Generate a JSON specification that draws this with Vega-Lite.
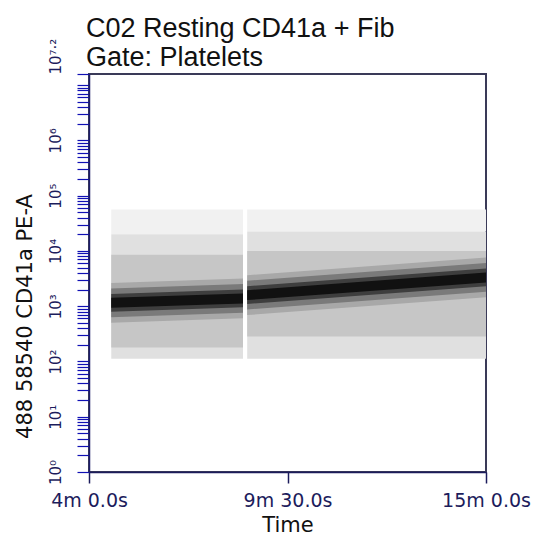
{
  "$schema": "https://vega.github.io/schema/vega-lite/v6.json",
  "autosize": "none",
  "width": 397,
  "height": 398,
  "padding": {"left": 89, "top": 74, "right": 61, "bottom": 68},
  "background": "white",
  "title": {
    "text": ["C02 Resting CD41a + Fib", "Gate: Platelets"],
    "anchor": "start",
    "frame": "group",
    "font": "Liberation Sans",
    "fontSize": 27,
    "fontWeight": "normal",
    "color": "#111111",
    "lineHeight": 29,
    "offset": 4,
    "dx": -3,
    "dy": 38
  },
  "data": {
    "values": [
      {"seg": 1, "band": "rare", "t": 277, "lo": 19953, "hi": 56234},
      {"seg": 1, "band": "rare", "t": 496, "lo": 19953, "hi": 56234},
      {"seg": 2, "band": "rare", "t": 503, "lo": 22387, "hi": 56234},
      {"seg": 2, "band": "rare", "t": 900, "lo": 22387, "hi": 56234},
      {"seg": 1, "band": "sparse", "t": 277, "lo": 112, "hi": 19953},
      {"seg": 1, "band": "sparse", "t": 496, "lo": 112, "hi": 19953},
      {"seg": 2, "band": "sparse", "t": 503, "lo": 112, "hi": 22387},
      {"seg": 2, "band": "sparse", "t": 900, "lo": 112, "hi": 22387},
      {"seg": 1, "band": "light", "t": 277, "lo": 178, "hi": 8511},
      {"seg": 1, "band": "light", "t": 496, "lo": 178, "hi": 8511},
      {"seg": 2, "band": "light", "t": 503, "lo": 282, "hi": 10000},
      {"seg": 2, "band": "light", "t": 900, "lo": 282, "hi": 10000},
      {"seg": 1, "band": "soft", "t": 277, "lo": 500, "hi": 2630},
      {"seg": 1, "band": "soft", "t": 496, "lo": 603, "hi": 3160},
      {"seg": 2, "band": "soft", "t": 503, "lo": 690, "hi": 3630},
      {"seg": 2, "band": "soft", "t": 900, "lo": 1445, "hi": 7585},
      {"seg": 1, "band": "mid", "t": 277, "lo": 631, "hi": 2089},
      {"seg": 1, "band": "mid", "t": 496, "lo": 759, "hi": 2512},
      {"seg": 2, "band": "mid", "t": 503, "lo": 871, "hi": 2884},
      {"seg": 2, "band": "mid", "t": 900, "lo": 1820, "hi": 6026},
      {"seg": 1, "band": "dark", "t": 277, "lo": 794, "hi": 1660},
      {"seg": 1, "band": "dark", "t": 496, "lo": 955, "hi": 1995},
      {"seg": 2, "band": "dark", "t": 503, "lo": 1096, "hi": 2291},
      {"seg": 2, "band": "dark", "t": 900, "lo": 2291, "hi": 4786},
      {"seg": 1, "band": "core", "t": 277, "lo": 933, "hi": 1413},
      {"seg": 1, "band": "core", "t": 496, "lo": 1122, "hi": 1698},
      {"seg": 2, "band": "core", "t": 503, "lo": 1288, "hi": 1950},
      {"seg": 2, "band": "core", "t": 900, "lo": 2692, "hi": 4074}
    ]
  },
  "mark": {"type": "area", "interpolate": "linear", "clip": true},
  "encoding": {
    "x": {
      "field": "t",
      "type": "quantitative",
      "scale": {"domain": [240, 900], "nice": false, "zero": false},
      "axis": {
        "values": [240, 570, 900],
        "labelExpr": "floor(datum.value / 60) + 'm ' + format(datum.value % 60, '.1f') + 's'",
        "title": "Time",
        "titleFont": "DejaVu Sans",
        "titleFontSize": 21,
        "titleFontWeight": "normal",
        "titleColor": "#111111",
        "titlePadding": 4,
        "labelFont": "DejaVu Sans",
        "labelFontSize": 19,
        "labelColor": "#1c1c5c",
        "labelPadding": 8,
        "labelFlush": false,
        "labelOverlap": false,
        "tickSize": 11,
        "tickColor": "#1c1c5c",
        "tickWidth": 1.5,
        "domainColor": "#1c1c5c",
        "domainWidth": 1.5,
        "grid": false
      }
    },
    "y": {
      "field": "lo",
      "type": "quantitative",
      "scale": {"type": "log", "domain": [1, 15848932], "nice": false},
      "axis": {
        "values": [1,2,3,4,5,6,7,8,9,10,20,30,40,50,60,70,80,90,100,200,300,400,500,600,700,800,900,1000,2000,3000,4000,5000,6000,7000,8000,9000,10000,20000,30000,40000,50000,60000,70000,80000,90000,100000,200000,300000,400000,500000,600000,700000,800000,900000,1000000,2000000,3000000,4000000,5000000,6000000,7000000,8000000,9000000,10000000,15848932],
        "labelExpr": "abs(log(datum.value) / LN10 - 7.2) < 0.01 ? '10⁷·²' : ((abs(log(datum.value) / LN10 - round(log(datum.value) / LN10)) < 0.001 && round(log(datum.value) / LN10) < 7) ? '10' + ['⁰','¹','²','³','⁴','⁵','⁶'][round(log(datum.value) / LN10)] : '')",
        "labelAngle": -90,
        "labelAlign": {"condition": {"test": "datum.value > 12000000", "value": "left"}, "value": "center"},
        "labelBaseline": "bottom",
        "labelPadding": 14,
        "labelFont": "DejaVu Sans",
        "labelFontSize": 15,
        "labelColor": "#1c1c5c",
        "labelOverlap": false,
        "labelBound": false,
        "labelFlush": false,
        "tickSize": 12,
        "tickColor": "#1010b4",
        "tickWidth": 1.2,
        "domainColor": "#1c1c6a",
        "domainWidth": 1.5,
        "grid": false,
        "title": "488 58540 CD41a PE-A",
        "titleFont": "DejaVu Sans",
        "titleFontSize": 21,
        "titleFontWeight": "normal",
        "titleColor": "#111111",
        "titleAngle": -90,
        "titleAlign": "center",
        "titleBaseline": "middle",
        "titleX": -64,
        "titleY": 242
      }
    },
    "y2": {"field": "hi"},
    "color": {
      "field": "band",
      "type": "nominal",
      "scale": {
        "domain": ["rare", "sparse", "light", "soft", "mid", "dark", "core"],
        "range": ["#f1f1f1", "#e0e0e0", "#c6c6c6", "#a8a8a8", "#7a7a7a", "#3e3e3e", "#111111"]
      },
      "legend": null
    },
    "detail": {"field": "seg", "type": "nominal"}
  },
  "config": {
    "view": {"stroke": "#3a3a58", "strokeWidth": 2}
  }
}
